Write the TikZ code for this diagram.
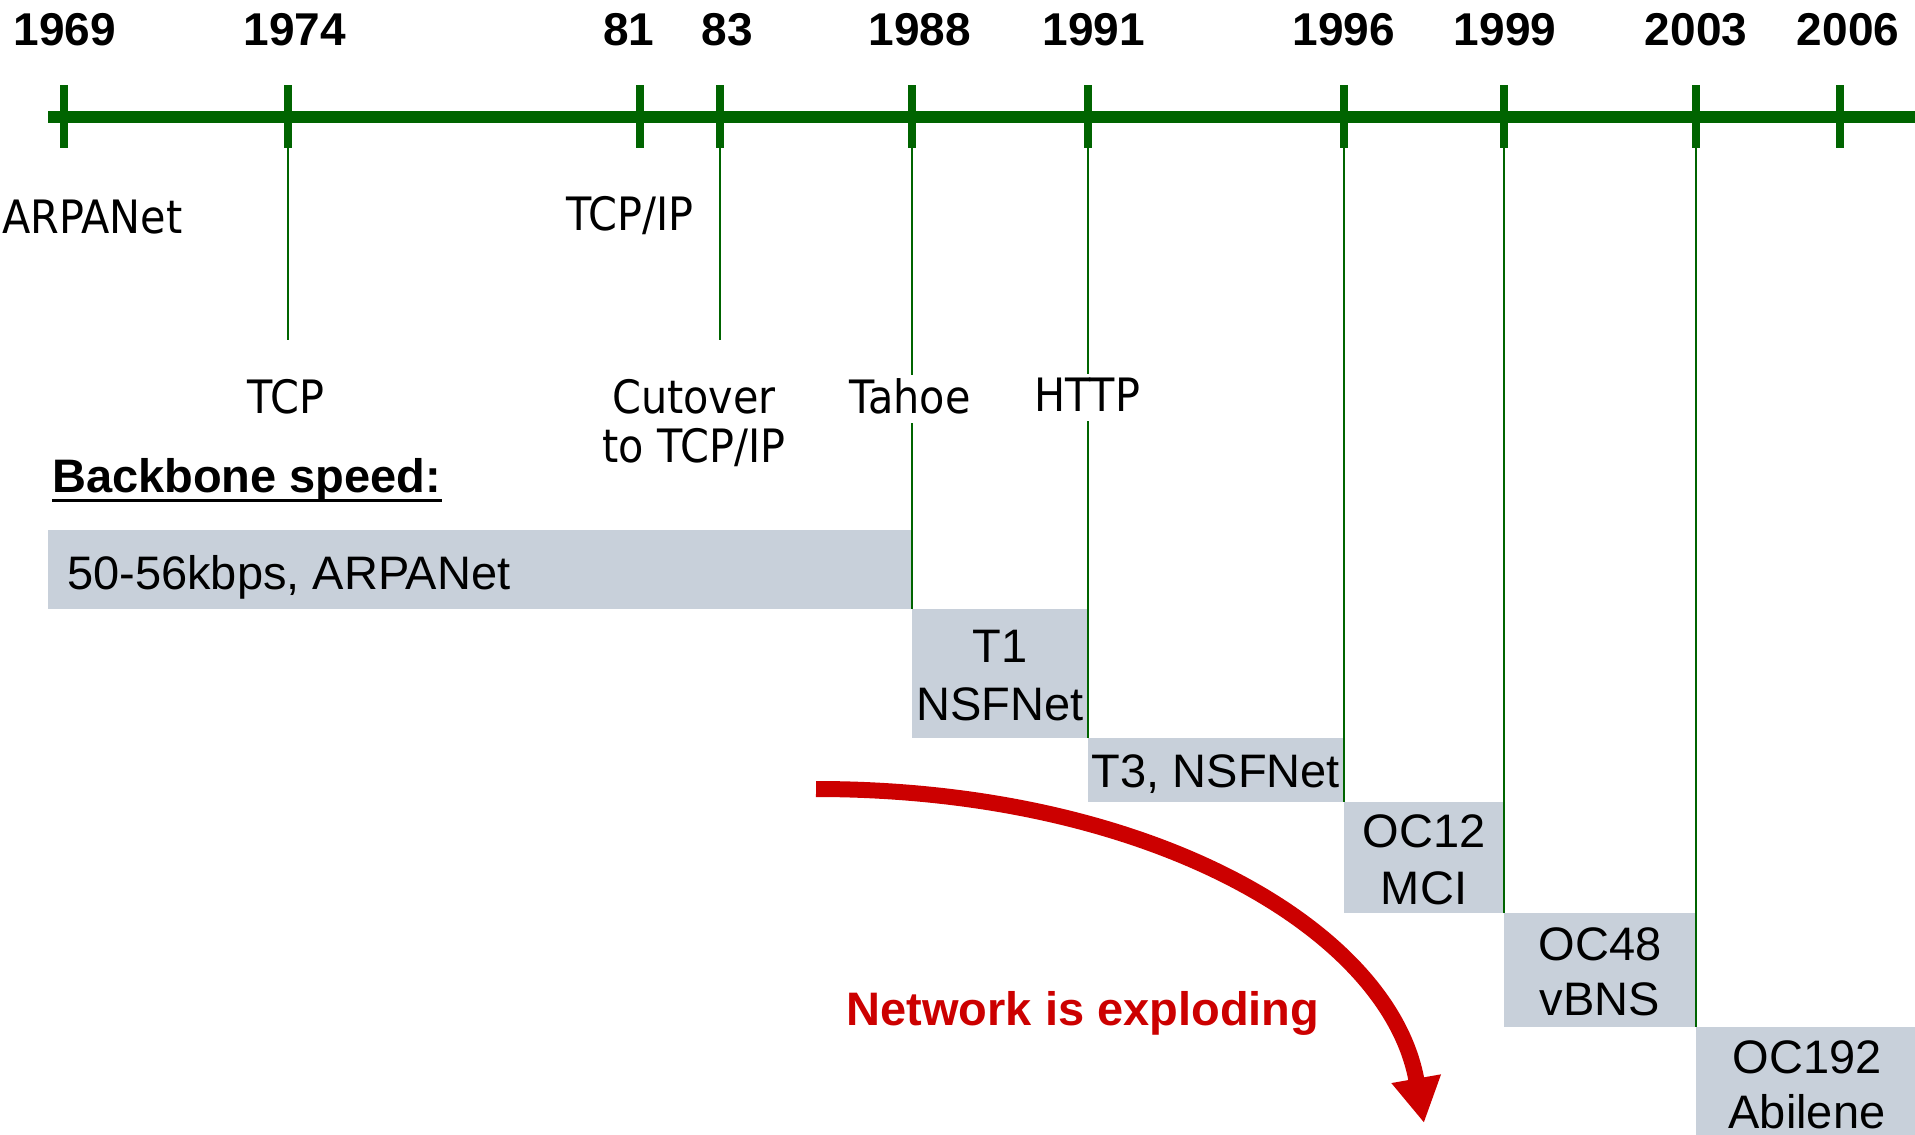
\documentclass[tikz,border=0pt]{standalone}
\usepackage{fontspec}
\setmainfont{Liberation Sans}
\newfontfamily\evfont[FakeStretch=0.9]{DejaVu Sans}
\usetikzlibrary{arrows.meta}
\definecolor{tlgreen}{RGB}{0,100,0}
\definecolor{boxfill}{RGB}{200,208,218}
\definecolor{boomred}{RGB}{204,0,0}
\begin{document}
\begin{tikzpicture}[x=1pt,y=-1pt,
  mainline/.style={line width=12pt, draw=tlgreen},
  tickmark/.style={line width=8pt, draw=tlgreen},
  dropline/.style={line width=2pt, draw=tlgreen},
  year/.style={font=\fontsize{46}{50}\selectfont\bfseries, anchor=base, inner sep=0pt},
  event/.style={font=\evfont\fontsize{46}{50}\selectfont, anchor=base, inner sep=0pt},
  masked/.style={event, fill=white, inner xsep=2pt, inner ysep=3pt, text depth=7pt},
  speedbox/.style={fill=boxfill, draw=none, inner sep=0pt, outer sep=0pt, anchor=north west},
  boxtext/.style={font=\fontsize{47}{50}\selectfont, anchor=base, inner sep=0pt},
  boom/.style={draw=boomred, line width=16pt, -{Triangle[width=47pt,length=45pt]}},
  boomtext/.style={font=\fontsize{47}{50}\selectfont\bfseries, text=boomred, anchor=base, inner sep=0pt}
]
\useasboundingbox (0,0) rectangle (1915,1135);

% speed boxes
\node[speedbox, minimum width=864pt, minimum height=79pt] (b1) at (48,530) {};
\node[speedbox, minimum width=176pt, minimum height=129pt] (b2) at (912,609) {};
\node[speedbox, minimum width=256pt, minimum height=64pt] (b3) at (1088,738) {};
\node[speedbox, minimum width=160pt, minimum height=111pt] (b4) at (1344,802) {};
\node[speedbox, minimum width=192pt, minimum height=114pt] (b5) at (1504,913) {};
\node[speedbox, minimum width=219pt, minimum height=108pt] (b6) at (1696,1027) {};

% box texts
\node[boxtext, anchor=base west] (s1) at (67,589) {50-56kbps, ARPANet};
\node[boxtext] (s2a) at (1000,662) {T1};
\node[boxtext] (s2b) at (1000,720) {NSFNet};
\node[boxtext] (s3) at (1216,787) {T3, NSFNet};
\node[boxtext] (s4a) at (1424,847) {OC12};
\node[boxtext] (s4b) at (1424,904) {MCI};
\node[boxtext] (s5a) at (1600,960) {OC48};
\node[boxtext] (s5b) at (1600,1015) {vBNS};
\node[boxtext] (s6a) at (1807,1073) {OC192};
\node[boxtext] (s6b) at (1807,1128) {Abilene};

% tick coordinates
\foreach \n/\x in {1969/64, 1974/288, 1981/640, 1983/720, 1988/912, 1991/1088, 1996/1344, 1999/1504, 2003/1696, 2006/1840}
  \coordinate (t\n) at (\x,117);

% drop lines
\coordinate (e1974) at (288,340);
\coordinate (e1983) at (720,340);
\draw[dropline] (t1974) -- (e1974);
\draw[dropline] (t1983) -- (e1983);
\draw[dropline] (t1988) -- (b1.south east);
\draw[dropline] (t1991) -- (b2.south east);
\draw[dropline] (t1996) -- (b3.south east);
\draw[dropline] (t1999) -- (b4.south east);
\draw[dropline] (t2003) -- (b5.south east);

% main time line
\coordinate (tlstart) at (48,117);
\coordinate (tlend) at (1915,117);
\draw[mainline] (tlstart) -- (tlend);
\foreach \n/\x in {1969/64, 1974/288, 1981/640, 1983/720, 1988/912, 1991/1088, 1996/1344, 1999/1504, 2003/1696, 2006/1840}
  \draw[tickmark] (\x,85) -- (\x,148);

% years
\node[year] (y1969) at (65,45) {1969};
\node[year] (y1974) at (295,45) {1974};
\node[year] (y1981) at (629,45) {81};
\node[year] (y1983) at (727,45) {83};
\node[year] (y1988) at (920,45) {1988};
\node[year] (y1991) at (1094,45) {1991};
\node[year] (y1996) at (1344,45) {1996};
\node[year] (y1999) at (1505,45) {1999};
\node[year] (y2003) at (1696,45) {2003};
\node[year] (y2006) at (1848,45) {2006};

% events
\node[event, anchor=base west] (ev1) at (2,233) {ARPANet};
\node[event] (ev2) at (630,230) {TCP/IP};
\node[event] (ev3) at (286,413) {TCP};
\node[event] (ev4a) at (694,413) {Cutover};
\node[event] (ev4b) at (694,462) {to TCP/IP};
\node[masked] (ev5) at (910,413) {Tahoe};
\node[masked] (ev6) at (1087,411) {HTTP};

% heading
\node[font=\fontsize{47}{50}\selectfont\bfseries, anchor=base west, inner sep=0pt] (bb) at (52,492) {Backbone speed:};
\draw[line width=3pt] ([yshift=-8pt]bb.base west) -- ([yshift=-8pt]bb.base east);

% exploding arrow
\coordinate (as) at (816,789);
\coordinate (ae) at (1424,1123);
\draw[boom] (as) .. controls (1150,789) and (1390,930) .. (ae);
\node[boomtext] (bt) at (1083,1025) {Network is exploding};
\end{tikzpicture}
\end{document}
